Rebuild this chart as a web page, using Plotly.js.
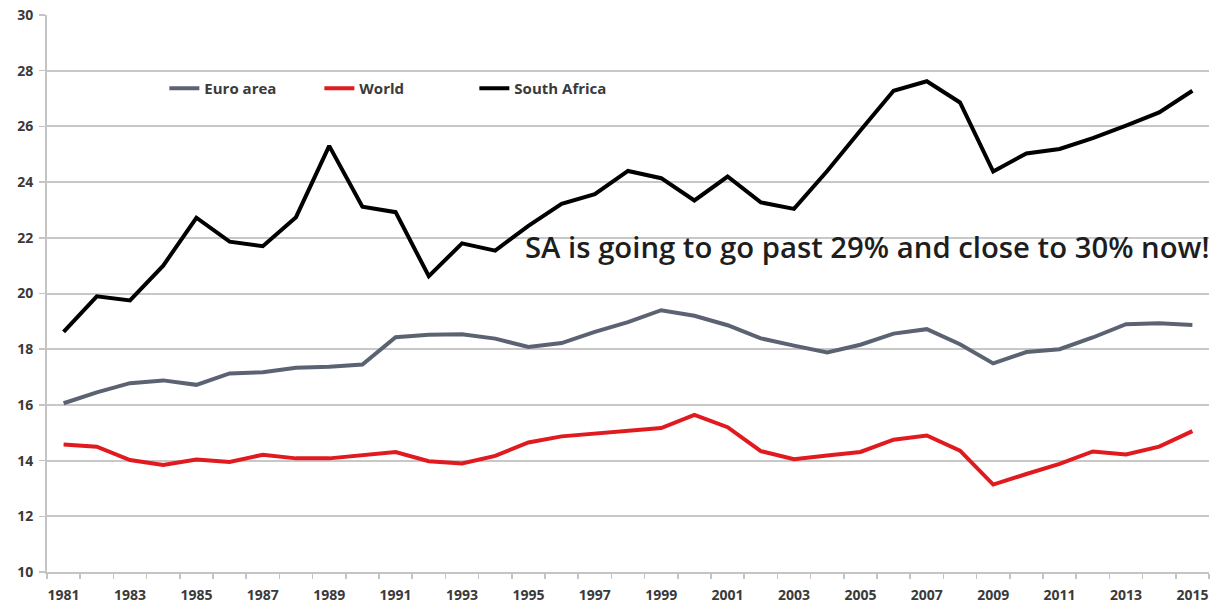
<!DOCTYPE html>
<html>
<head>
<meta charset="utf-8">
<script src="https://cdn.plot.ly/plotly-3.0.1.min.js"></script>
<style>html,body{margin:0;padding:0;background:#fff;}#chart{width:1219px;height:607px;}</style>
</head>
<body>
<div id="chart"></div>
<script>
var years = [1981,1982,1983,1984,1985,1986,1987,1988,1989,1990,1991,1992,1993,1994,1995,1996,1997,1998,1999,2000,2001,2002,2003,2004,2005,2006,2007,2008,2009,2010,2011,2012,2013,2014,2015];
var euroArea = [16.06,16.45,16.78,16.88,16.72,17.13,17.17,17.33,17.37,17.45,18.43,18.52,18.54,18.38,18.08,18.22,18.62,18.97,19.4,19.2,18.86,18.39,18.13,17.88,18.16,18.56,18.72,18.18,17.49,17.9,18.0,18.42,18.9,18.93,18.87];
var world = [14.58,14.5,14.02,13.84,14.04,13.95,14.21,14.08,14.08,14.2,14.31,13.98,13.9,14.17,14.65,14.87,14.98,15.08,15.17,15.64,15.2,14.34,14.05,14.18,14.31,14.75,14.9,14.36,13.14,13.52,13.88,14.33,14.22,14.5,15.06];
var southAfrica = [18.62,19.9,19.75,21.0,22.72,21.86,21.7,22.74,25.3,23.12,22.92,20.62,21.8,21.54,22.43,23.22,23.57,24.4,24.14,23.34,24.2,23.27,23.04,24.4,25.85,27.28,27.62,26.86,24.38,25.03,25.19,25.58,26.03,26.5,27.28];
var xTickLabels = ['1981','1983','1985','1987','1989','1991','1993','1995','1997','1999','2001','2003','2005','2007','2009','2011','2013','2015'];
var xTickVals = xTickLabels.map(Number);
var noteText = 'SA is going to go past 29% and close to 30% now!';

var tickFont = {family: 'Open Sans, Liberation Sans, sans-serif', size: 14, color: '#3a3a3a', weight: 'bold'};

var traces = [
  {x: years, y: euroArea, name: 'Euro area', type: 'scatter', mode: 'lines', line: {color: '#5b6272', width: 4}},
  {x: years, y: world, name: 'World', type: 'scatter', mode: 'lines', line: {color: '#e01a1f', width: 4}},
  {x: years, y: southAfrica, name: 'South Africa', type: 'scatter', mode: 'lines', line: {color: '#000000', width: 4}}
];

var layout = {
  width: 1219, height: 607,
  margin: {l: 47, r: 10, t: 15, b: 35},
  paper_bgcolor: '#ffffff', plot_bgcolor: '#ffffff',
  showlegend: true,
  legend: {
    orientation: 'h', x: 0.101, y: 0.868, xanchor: 'left', yanchor: 'middle',
    font: {family: 'Open Sans, Liberation Sans, sans-serif', size: 15, color: '#3a3a3a', weight: 'bold'},
    bgcolor: 'rgba(0,0,0,0)', entrywidth: 110, entrywidthmode: 'pixels', itemwidth: 30
  },
  xaxis: {
    type: 'linear', range: [1980.5, 2015.5], fixedrange: true,
    tickvals: xTickVals, ticktext: xTickLabels, ticks: '', showgrid: false,
    tickfont: tickFont, ticklabelstandoff: 9,
    showline: true, linecolor: '#c4c4c4', linewidth: 2, zeroline: false,
    minor: {tick0: 1980.5, dtick: 1, ticks: 'outside', ticklen: 5, tickcolor: '#c4c4c4', tickwidth: 1.5, showgrid: false}
  },
  yaxis: {
    range: [10, 30], dtick: 2, tick0: 10, fixedrange: true,
    ticks: 'outside', ticklen: 6, tickcolor: '#c4c4c4', tickwidth: 1.5,
    tickfont: tickFont, ticklabelstandoff: 3,
    showgrid: true, gridcolor: '#c8c8c8', gridwidth: 2,
    showline: true, linecolor: '#c4c4c4', linewidth: 2, zeroline: false
  },
  annotations: [{
    text: noteText, xref: 'paper', yref: 'y', x: 1.003, y: 21.66,
    xanchor: 'right', yanchor: 'middle', showarrow: false,
    font: {family: 'Open Sans, Liberation Sans, sans-serif', size: 29.3, color: '#1e1e1e', weight: 600}
  }]
};

Plotly.newPlot('chart', traces, layout, {displayModeBar: false, staticPlot: true});
</script>
</body>
</html>
